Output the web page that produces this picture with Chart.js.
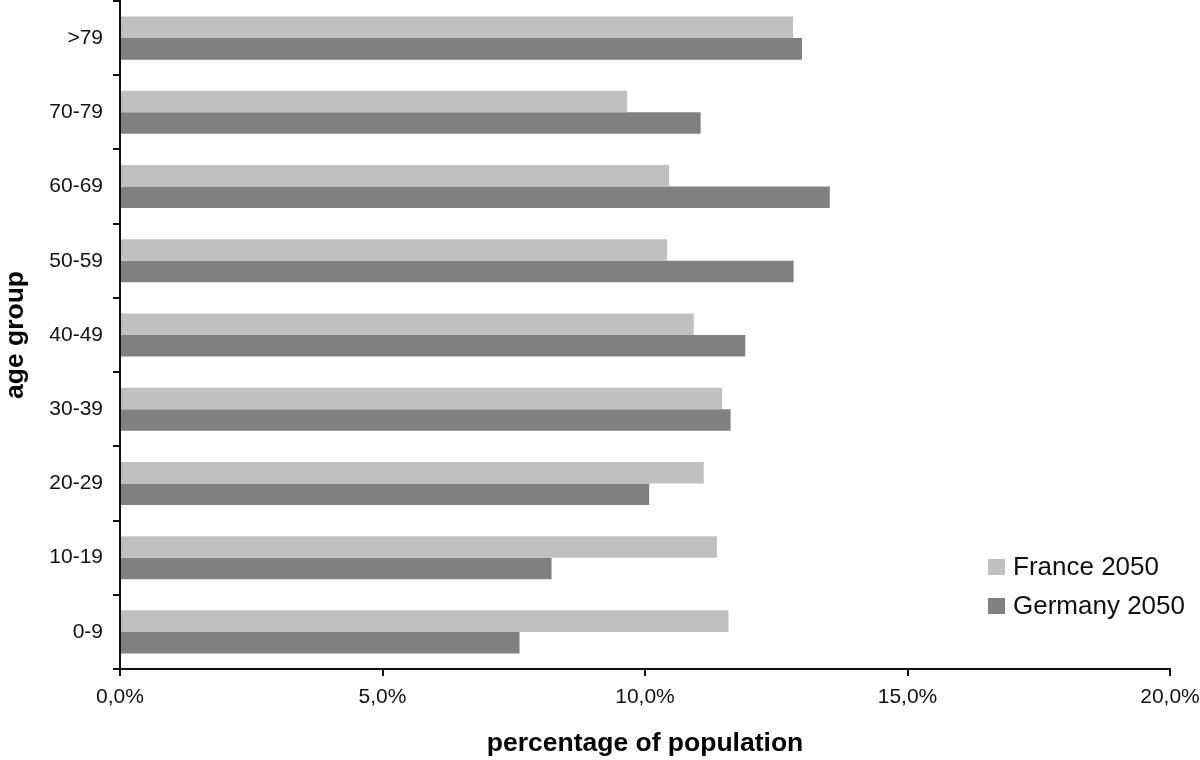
<!DOCTYPE html>
<html>
<head>
<meta charset="utf-8">
<script src="https://cdn.jsdelivr.net/npm/chart.js@4/dist/chart.umd.min.js"></script>
<style>
    body { margin: 0; background: #fff; }
    #wrap { width: 1200px; height: 760px; }
</style>
</head>
<body>
<div id="wrap"><canvas id="ageChart" width="1200" height="760"></canvas></div>
<script>
// Age groups, top to bottom as drawn
const ageGroups = ['>79', '70-79', '60-69', '50-59', '40-49', '30-39', '20-29', '10-19', '0-9'];
// percentage of population per age group
const france2050 = [12.82, 9.66, 10.46, 10.42, 10.93, 11.47, 11.12, 11.37, 11.59];
const germany2050 = [12.99, 11.06, 13.52, 12.83, 11.91, 11.63, 10.08, 8.22, 7.61];
const xTickMin = 0;
const xTickMax = 20;
const xTickStep = 5;

const fontFamily = '"Liberation Sans", Arial, Helvetica, sans-serif';

// Legend drawn inside the plot, bottom right
const insideLegend = {
    id: 'insideLegend',
    afterDraw: function (chart) {
        var ctx = chart.ctx;
        var area = chart.chartArea;
        var x = area.right - 182;
        var y = area.bottom - 102;
        ctx.save();
        ctx.font = '26px ' + fontFamily;
        ctx.textBaseline = 'middle';
        ctx.textAlign = 'left';
        chart.data.datasets.forEach(function (ds, i) {
            var rowY = y + i * 39;
            ctx.fillStyle = ds.backgroundColor;
            ctx.fillRect(x, rowY - 8, 17, 16);
            ctx.fillStyle = '#111';
            ctx.fillText(ds.label, x + 25, rowY + 1);
        });
        ctx.restore();
    }
};

var ctx = document.getElementById('ageChart').getContext('2d');
var ageChart = new Chart(ctx, {
    type: 'bar',
    data: {
        labels: ageGroups,
        datasets: [{
            label: 'France 2050',
            data: france2050,
            backgroundColor: '#c0c0c0',
            borderWidth: 0
        }, {
            label: 'Germany 2050',
            data: germany2050,
            backgroundColor: '#808080',
            borderWidth: 0
        }]
    },
    options: {
        indexAxis: 'y',
        responsive: false,
        animation: false,
        layout: { padding: { top: 1, right: 30, left: 0, bottom: 0 } },
        plugins: {
            legend: { display: false },
            tooltip: { enabled: false }
        },
        datasets: {
            bar: { categoryPercentage: 0.58, barPercentage: 1.0 }
        },
        scales: {
            x: {
                min: xTickMin,
                max: xTickMax,
                ticks: {
                    stepSize: xTickStep,
                    color: '#111',
                    font: { family: fontFamily, size: 21 },
                    padding: 9,
                    maxRotation: 0,
                    callback: function (value) {
                        return value.toFixed(1).replace('.', ',') + '%';
                    }
                },
                grid: { drawOnChartArea: false, drawTicks: true, tickLength: 7, color: '#111', lineWidth: 2 },
                border: { display: true, color: '#111', width: 2 },
                title: {
                    display: true,
                    text: 'percentage of population',
                    color: '#000',
                    font: { family: fontFamily, size: 26.5, weight: 'bold' },
                    padding: { top: 0, bottom: 0 }
                },
                afterFit: function (scale) {
                    scale.height = 91;
                    scale.paddingLeft = 0;
                    scale.paddingRight = 0;
                }
            },
            y: {
                ticks: {
                    color: '#111',
                    font: { family: fontFamily, size: 21 },
                    padding: 10
                },
                grid: { drawOnChartArea: false, drawTicks: true, tickLength: 7, color: '#111', lineWidth: 2 },
                border: { display: true, color: '#111', width: 2 },
                title: {
                    display: true,
                    text: 'age group',
                    color: '#000',
                    font: { family: fontFamily, size: 26.5, weight: 'bold' },
                    padding: { top: 0, bottom: 0 }
                },
                afterFit: function (scale) {
                    scale.width = 120;
                    scale.paddingTop = 0;
                    scale.paddingBottom = 0;
                }
            }
        }
    },
    plugins: [insideLegend]
});
</script>
</body>
</html>
